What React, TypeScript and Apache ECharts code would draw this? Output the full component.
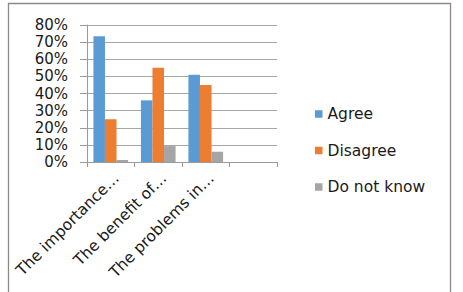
import React, { useEffect, useRef } from "react";
import * as echarts from "echarts";

const categories = ["The importance…", "The benefit of…", "The problems in…", ""];
const seriesNames = ["Agree", "Disagree", "Do not know"];
const agree = [73.5, 36, 51];
const disagree = [25, 55, 45];
const doNotKnow = [1.2, 9.3, 6];
const yTicks = { min: 0, max: 80, interval: 10 };
const colors = ["#5B9BD5", "#ED7D31", "#A5A5A5"];

export default function App() {
  const ref = useRef<HTMLDivElement>(null);
  useEffect(() => {
    if (!ref.current) return;
    const chart = echarts.init(ref.current, null, { renderer: "svg" });
    const font = "DejaVu Sans";
    const values = [agree, disagree, doNotKnow];
    chart.setOption({
      animation: false,
      textStyle: { fontFamily: font },
      graphic: [
        {
          type: "rect",
          shape: { x: 8.5, y: 3.5, width: 442, height: 300 },
          style: { fill: "none", stroke: "#8a8a8a", lineWidth: 1.3 },
          silent: true,
        },
      ],
      legend: {
        orient: "vertical",
        left: 315,
        top: 106,
        padding: 0,
        itemWidth: 7.5,
        itemHeight: 7.5,
        itemGap: 20.5,
        icon: "rect",
        data: seriesNames,
        textStyle: { fontFamily: font, fontSize: 15.5, color: "#1a1a1a" },
      },
      grid: { left: 87, right: 186, top: 25, bottom: 130, containLabel: false },
      xAxis: {
        type: "category",
        data: categories,
        axisLine: { show: true, lineStyle: { color: "#9a9a9a", width: 1 } },
        axisTick: { show: true, length: 5, lineStyle: { color: "#9a9a9a" } },
        axisLabel: {
          interval: 0,
          rotate: 45,
          margin: 8,
          verticalAlign: "top",
          fontFamily: font,
          fontSize: 15.5,
          color: "#1a1a1a",
        },
      },
      yAxis: {
        type: "value",
        min: yTicks.min,
        max: yTicks.max,
        interval: yTicks.interval,
        axisLine: { show: true, lineStyle: { color: "#9a9a9a", width: 1 } },
        axisTick: { show: true, inside: false, length: 7, lineStyle: { color: "#9a9a9a" } },
        splitLine: { show: true, lineStyle: { color: "#a6a6a6", width: 1 } },
        axisLabel: {
          formatter: "{value}%",
          margin: 19,
          fontFamily: font,
          fontSize: 15,
          color: "#1a1a1a",
        },
      },
      series: seriesNames.map((name, i) => ({
        name,
        type: "bar",
        data: values[i],
        barGap: "0%",
        barCategoryGap: "27%",
        itemStyle: { color: colors[i] },
      })),
    });
    return () => chart.dispose();
  }, []);
  return (
    <div
      ref={ref}
      style={{ position: "absolute", left: 0, top: 0, width: 463, height: 292, background: "#fff" }}
    />
  );
}
